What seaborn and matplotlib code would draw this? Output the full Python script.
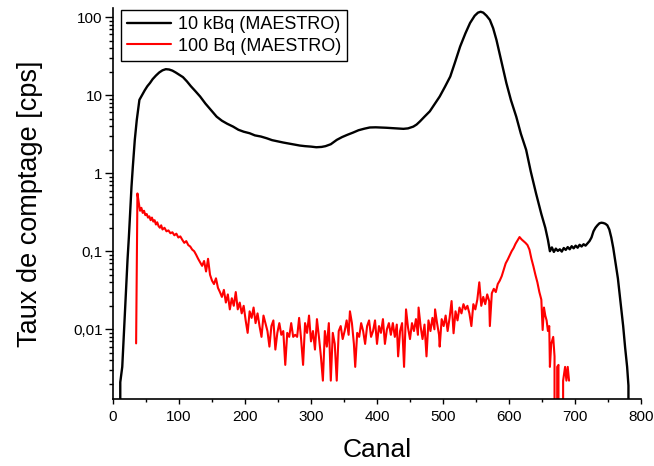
import numpy as np
import pandas as pd
import matplotlib
matplotlib.use("Agg")
import matplotlib.pyplot as plt
import matplotlib.ticker as mticker
import seaborn as sns

# -----------------------------------------------------------
# data (canal -> taux de comptage, cps)
# -----------------------------------------------------------
canal_10k = [10, 11, 14, 16, 18, 20, 22, 24, 26, 28, 30, 33, 36, 40, 44, 48, 52, 56, 60, 65,
             70, 75, 80, 85, 90, 95, 100, 106, 112, 118, 125, 132, 140, 148, 157, 165, 173, 182,
             190, 198, 207, 215, 224, 233, 241, 250, 258, 266, 275, 283, 291, 300, 308, 316, 322,
             330, 339, 347, 355, 364, 372, 381, 389, 398, 406, 414, 423, 431, 440, 447, 455, 460,
             465, 472, 480, 487, 495, 503, 511, 518, 526, 534, 541, 548, 553, 557, 561, 566, 571,
             576, 581, 588, 596, 603, 611, 618, 626, 633, 641, 649, 655, 659, 662, 665, 668, 671,
             674, 677, 680, 683, 686, 689, 692, 695, 698, 701, 704, 707, 710, 713, 716, 719, 722,
             725, 728, 731, 734, 737, 740, 743, 746, 749, 752, 755, 758, 761, 765, 769, 773, 776,
             779, 781, 783]
cps_10k = [0, 0.0021, 0.0033, 0.0075, 0.016, 0.035, 0.078, 0.15, 0.32, 0.67, 1.2, 2.67, 4.8, 8.7,
           10.0, 11.5, 13.0, 14.3, 16.0, 17.8, 19.5, 20.8, 21.5, 21.3, 20.6, 19.5, 18.3, 17.0,
           15.0, 13.0, 11.2, 9.6, 7.8, 6.5, 5.3, 4.7, 4.3, 3.95, 3.6, 3.4, 3.25, 3.05, 2.95, 2.8,
           2.65, 2.55, 2.47, 2.40, 2.33, 2.26, 2.22, 2.19, 2.15, 2.17, 2.22, 2.35, 2.67, 2.9, 3.1,
           3.32, 3.55, 3.72, 3.85, 3.87, 3.85, 3.82, 3.78, 3.74, 3.7, 3.75, 3.95, 4.2, 4.6, 5.3,
           6.2, 7.6, 9.6, 12.8, 17.3, 26, 42, 62, 84, 104, 114, 117, 114, 104, 92, 72, 51, 28,
           14.3, 8.6, 5.3, 3.2, 1.99, 1.05, 0.55, 0.3, 0.2, 0.14, 0.1, 0.112, 0.098, 0.108, 0.101,
           0.106, 0.099, 0.11, 0.104, 0.113, 0.106, 0.116, 0.109, 0.118, 0.111, 0.121, 0.115,
           0.123, 0.118, 0.126, 0.135, 0.15, 0.18, 0.2, 0.215, 0.228, 0.232, 0.23, 0.225, 0.215,
           0.19, 0.15, 0.11, 0.075, 0.045, 0.022, 0.011, 0.0058, 0.0033, 0.0019, 0]

canal_100 = [35, 37, 39, 41, 43, 45, 47, 49, 51, 53, 55, 57, 59, 61, 63, 65, 67, 69, 71, 73, 75,
             78, 81, 84, 87, 90, 93, 96, 99, 102, 105, 108, 111, 114, 117, 120, 123, 126, 129,
             132, 135, 138, 141, 144, 147, 150, 153, 156, 159, 162, 165, 168, 171, 174, 177, 180,
             183, 186, 189, 192, 195, 198, 201, 204, 207, 210, 213, 216, 219, 222, 225, 228, 231,
             234, 237, 240, 243, 246, 249, 252, 255, 258, 261, 264, 267, 270, 273, 276, 279, 282,
             285, 288, 291, 294, 297, 300, 303, 306, 309, 312, 315, 318, 321, 324, 327, 330, 333,
             336, 339, 342, 345, 348, 351, 354, 357, 359, 362, 365, 367, 370, 373, 376, 379, 382,
             385, 388, 391, 394, 397, 400, 403, 406, 409, 412, 415, 418, 421, 424, 427, 430, 432,
             435, 438, 441, 444, 447, 450, 453, 456, 459, 462, 463, 466, 469, 472, 475, 478, 481,
             484, 487, 488, 491, 494, 495, 498, 501, 504, 507, 510, 513, 516, 519, 522, 525, 528,
             531, 534, 537, 540, 543, 546, 549, 552, 555, 558, 561, 564, 567, 570, 571, 574, 577,
             580, 583, 586, 589, 592, 595, 598, 601, 604, 607, 610, 613, 616, 619, 622, 625, 628,
             631, 634, 637, 640, 643, 646, 649, 651, 653, 655, 657, 659, 661, 662, 664, 667, 669,
             671, 673, 675, 677, 680, 682, 685, 687, 689, 691]
cps_100 = [0.0066, 0.55, 0.42, 0.33, 0.36, 0.31, 0.33, 0.29, 0.30, 0.27, 0.28, 0.25, 0.27, 0.24,
           0.25, 0.22, 0.235, 0.21, 0.2, 0.215, 0.19, 0.2, 0.18, 0.185, 0.17, 0.175, 0.16, 0.168,
           0.15, 0.155, 0.14, 0.128, 0.135, 0.12, 0.115, 0.105, 0.1, 0.09, 0.08, 0.072, 0.065,
           0.075, 0.055, 0.08, 0.05, 0.042, 0.038, 0.045, 0.034, 0.03, 0.026, 0.032, 0.022, 0.028,
           0.018, 0.025, 0.02, 0.03, 0.018, 0.022, 0.016, 0.02, 0.013, 0.009, 0.017, 0.014, 0.019,
           0.012, 0.016, 0.011, 0.008, 0.015, 0.012, 0.0095, 0.006, 0.011, 0.013, 0.0055, 0.009,
           0.012, 0.0085, 0.0095, 0.0035, 0.009, 0.008, 0.012, 0.008, 0.0085, 0.008, 0.014,
           0.0075, 0.0035, 0.012, 0.009, 0.015, 0.007, 0.0095, 0.0055, 0.0135, 0.008, 0.0045,
           0.0022, 0.0095, 0.006, 0.012, 0.0022, 0.009, 0.0065, 0.0022, 0.0095, 0.011, 0.0075,
           0.0095, 0.013, 0.0085, 0.017, 0.012, 0.0065, 0.0033, 0.009, 0.008, 0.012, 0.0095,
           0.0065, 0.011, 0.013, 0.008, 0.0095, 0.013, 0.0065, 0.011, 0.009, 0.0135, 0.0065, 0.01,
           0.012, 0.0085, 0.012, 0.008, 0.0115, 0.0045, 0.0095, 0.012, 0.0033, 0.018, 0.0105,
           0.0075, 0.012, 0.0095, 0.0135, 0.0085, 0.019, 0.011, 0.0075, 0.0115, 0.0045, 0.013,
           0.0095, 0.014, 0.01, 0.018, 0.012, 0.0085, 0.006, 0.0135, 0.011, 0.015, 0.0095, 0.014,
           0.023, 0.0089, 0.017, 0.013, 0.019, 0.016, 0.021, 0.018, 0.02, 0.016, 0.011, 0.021,
           0.018, 0.024, 0.04, 0.02, 0.026, 0.021, 0.028, 0.023, 0.011, 0.029, 0.033, 0.03, 0.038,
           0.042, 0.048, 0.058, 0.07, 0.078, 0.088, 0.1, 0.11, 0.125, 0.138, 0.152, 0.142, 0.135,
           0.128, 0.12, 0.105, 0.08, 0.064, 0.05, 0.04, 0.03, 0.024, 0.0098, 0.019, 0.015, 0.013,
           0.0095, 0.011, 0.0033, 0.0065, 0.008, 0.0045, 0, 0.0033, 0.0035, 0, 0, 0.0022, 0.0033,
           0.0022, 0.0033, 0.0022]

label_10k = "10 kBq (MAESTRO)"
label_100 = "100 Bq (MAESTRO)"

# -----------------------------------------------------------
# style
# -----------------------------------------------------------
sns.set_style("ticks")
plt.rcParams['font.family'] = ['Liberation Sans', 'DejaVu Sans']
plt.rcParams['text.color'] = 'black'
plt.rcParams['axes.labelcolor'] = 'black'
plt.rcParams['xtick.color'] = 'black'
plt.rcParams['ytick.color'] = 'black'

df_10k = pd.DataFrame({'Canal': canal_10k, 'cps': cps_10k})
df_100 = pd.DataFrame({'Canal': canal_100, 'cps': cps_100})

fig = plt.figure(figsize=(6.54, 4.66), dpi=100)
ax = fig.add_axes([0.1728, 0.1438, 0.8073, 0.8392])

sns.lineplot(data=df_10k, x='Canal', y='cps', color='black', linewidth=1.7,
             estimator=None, sort=False, label=label_10k, ax=ax)
sns.lineplot(data=df_100, x='Canal', y='cps', color='#ff0000', linewidth=1.5,
             estimator=None, sort=False, label=label_100, ax=ax)

ax.set_yscale('log')
ax.set_xlim(0, 800)
ax.set_ylim(0.00128, 131)

ax.xaxis.set_major_locator(mticker.MultipleLocator(100))
ax.xaxis.set_minor_locator(mticker.MultipleLocator(50))
ax.yaxis.set_major_locator(mticker.LogLocator(base=10))
ax.yaxis.set_minor_locator(mticker.LogLocator(base=10, subs=np.arange(2, 10)))
ax.yaxis.set_minor_formatter(mticker.NullFormatter())
ax.yaxis.set_major_formatter(mticker.FuncFormatter(lambda v, p: ('%g' % v).replace('.', ',')))

sns.despine(ax=ax)
for s in ['left', 'bottom']:
    ax.spines[s].set_linewidth(1.2)
    ax.spines[s].set_color('black')

ax.tick_params(axis='both', which='both', direction='out', colors='black', width=1.0,
               labelsize=11, labelcolor='black')
ax.tick_params(axis='x', which='major', length=3.6, pad=4)
ax.tick_params(axis='x', which='minor', length=2.4)
ax.tick_params(axis='y', which='major', length=5.5, pad=2)
ax.tick_params(axis='y', which='minor', length=3)

ax.set_xlabel('Canal', fontsize=19, color='black')
ax.set_ylabel('Taux de comptage [cps]', fontsize=19.5, color='black')
ax.xaxis.set_label_coords(0.5, -0.1)
ax.yaxis.set_label_coords(-0.1326, 0.5)

leg = ax.legend(loc='upper left', bbox_to_anchor=(0.015, 0.995), borderaxespad=0,
                fontsize=13, frameon=True, fancybox=False, handlelength=2.4,
                handletextpad=0.4, labelspacing=0.25, borderpad=0.35)
leg.get_frame().set_edgecolor('black')
leg.get_frame().set_linewidth(1.0)
leg.get_frame().set_alpha(1)
for t in leg.get_texts():
    t.set_color('black')

plt.savefig('out.png', dpi=100)
